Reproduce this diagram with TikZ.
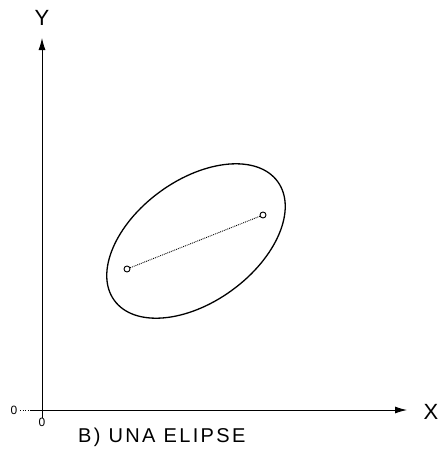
\documentclass[tikz,border=0pt]{standalone}
\usepackage{fontspec}
\setmainfont{Liberation Sans}
\usetikzlibrary{arrows.meta}
\begin{document}
\begin{tikzpicture}[x=1pt,y=-1pt,
  axis/.style={line width=0.9pt,-{Latex[length=12pt,width=7pt]}},
  lbl/.style={inner sep=0pt,font=\fontsize{22}{22}\selectfont},
  small/.style={inner sep=0pt,font=\fontsize{12}{12}\selectfont},
  focus/.style={circle,draw,line width=0.9pt,fill=white,inner sep=0pt,minimum size=6pt}]
\useasboundingbox (0,0) rectangle (445,453);
\coordinate (o) at (42,410);
\coordinate (ybot) at (42,418);
\coordinate (ytop) at (42,38);
\coordinate (xleft) at (30,410);
\coordinate (xend) at (407,410);
\draw[axis] (ybot) -- (ytop);
\draw[axis] (xleft) -- (xend);
\draw[line width=0.6pt,dotted] (20,410) -- (xleft);
\node[lbl] (ylab) at (42,18) {Y};
\node[lbl] (xlab) at (431,412) {X};
\node[small] (zl) at (14,410) {0};
\node[small] (zb) at (42,422) {0};
\node[lbl,anchor=west,font=\fontsize{20}{20}\selectfont\addfontfeature{LetterSpace=12}] (cap) at (78,437) {B) UNA ELIPSE};
\draw[line width=1.3pt] (196,241) ellipse[x radius=101,y radius=61,rotate=36];
\node[focus] (f1) at (127,269) {};
\node[focus] (f2) at (263,215) {};
\draw[line width=0.9pt,densely dotted] (f1) -- (f2);
\end{tikzpicture}
\end{document}
